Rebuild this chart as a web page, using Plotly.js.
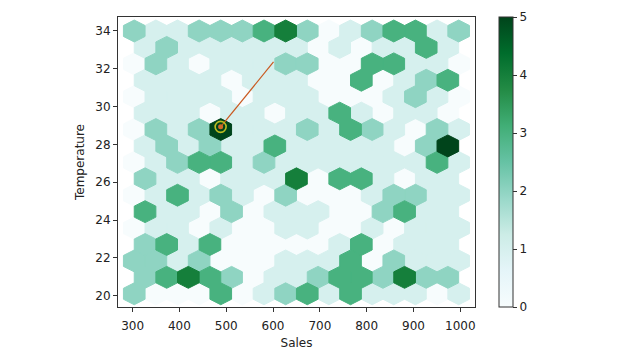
<!DOCTYPE html>
<html><head><meta charset="utf-8">
<script src="https://cdn.plot.ly/plotly-3.0.1.min.js"></script>
<style>html,body{margin:0;padding:0;background:#fff}#chart{width:640px;height:360px}</style>
</head><body><div id="chart"></div>
<script>
// Hexbin counts, lattice 1 (rows from bottom, 16 columns each)
const countsLattice1 = [
  [2,0,0,0,3,0,1,2,3,1,3,1,1,1,0,1],
  [2,2,1,2,0,0,0,1,1,1,3,0,2,1,1,1],
  [0,1,1,0,1,0,0,1,1,0,0,1,0,1,1,1],
  [0,1,3,1,2,1,0,2,0,0,0,1,2,2,1,1],
  [0,1,2,3,3,1,2,1,1,1,1,1,1,1,3,1],
  [0,2,1,2,5,1,1,1,2,1,3,2,1,0,2,1],
  [0,1,1,1,1,0,1,1,1,0,0,0,1,2,1,0],
  [0,2,1,0,1,1,1,2,2,0,0,3,3,1,1,0],
  [2,1,1,2,2,2,3,4,2,0,1,2,3,3,1,2]
];
// Hexbin counts, lattice 2 (offset rows from bottom, 15 columns each)
const countsLattice2 = [
  [2,3,4,3,2,0,1,1,2,3,3,2,4,2,2],
  [2,3,1,3,0,0,0,0,0,1,3,0,1,1,1],
  [3,1,1,0,2,0,1,1,1,0,0,2,3,1,1],
  [2,1,1,0,1,1,1,4,0,3,3,1,0,1,1],
  [1,2,1,2,1,1,3,1,1,1,1,1,0,2,5],
  [1,1,1,0,1,1,0,1,1,3,1,0,1,1,0],
  [1,1,1,1,0,1,1,1,0,0,3,0,1,2,3],
  [1,2,1,1,1,1,1,1,0,1,0,1,1,3,1]
];
// Hexbin data extent (Sales, Temperature) and grid size
const salesExtent = [303.5, 996.5];
const tempExtent = [20.1, 34.0];
const gridsize = 15;
// annotation line: from highlighted point to text position
const annotSales = [488, 601];
const annotTemp = [28.93, 32.36];
const xTicks = [300,400,500,600,700,800,900,1000];
const yTicks = [20,22,24,26,28,30,32,34];
const cbTicks = [0,1,2,3,4,5];

const BUGN = [[0,'#f7fcfd'],[0.125,'#e5f5f9'],[0.25,'#ccece6'],[0.375,'#99d8c9'],[0.5,'#66c2a4'],[0.625,'#41ae76'],[0.75,'#238b45'],[0.875,'#006d2c'],[1,'#00441b']];
function hex2rgb(h){return [parseInt(h.slice(1,3),16),parseInt(h.slice(3,5),16),parseInt(h.slice(5,7),16)];}
function bugn(t){
  for(let i=0;i<BUGN.length-1;i++){
    const [a,ca]=BUGN[i],[b,cb]=BUGN[i+1];
    if(t<=b){const f=(t-a)/(b-a);const A=hex2rgb(ca),B=hex2rgb(cb);
      return 'rgb('+A.map((v,k)=>Math.round(v+(B[k]-v)*f)).join(',')+')';}
  }
  return BUGN[BUGN.length-1][1];
}
const cmax = 5;
const ny = countsLattice2.length;
const sx = (salesExtent[1]-salesExtent[0])/gridsize;
const sy = (tempExtent[1]-tempExtent[0])/ny;

const cells = [];
countsLattice1.forEach((row,j)=>row.forEach((c,i)=>cells.push({x:salesExtent[0]+i*sx,y:tempExtent[0]+j*sy,c})));
countsLattice2.forEach((row,j)=>row.forEach((c,i)=>cells.push({x:salesExtent[0]+(i+0.5)*sx,y:tempExtent[0]+(j+0.5)*sy,c})));

const offs = [[0.5,-1/6],[0.5,1/6],[0,1/3],[-0.5,1/6],[-0.5,-1/6],[0,-1/3]];
const traces = [];
for(let level=0; level<=cmax; level++){
  const xs=[],ys=[];
  cells.filter(d=>d.c===level).forEach(d=>{
    offs.forEach(o=>{xs.push(d.x+o[0]*sx);ys.push(d.y+o[1]*sy);});
    xs.push(d.x+offs[0][0]*sx);ys.push(d.y+offs[0][1]*sy);
    xs.push(null);ys.push(null);
  });
  const col = bugn(level/cmax);
  traces.push({type:'scatter',mode:'lines',x:xs,y:ys,fill:'toself',fillcolor:col,
    line:{color:col,width:1},hoverinfo:'skip',showlegend:false,connectgaps:false});
}
// colorbar carrier
traces.push({type:'scatter',mode:'markers',x:cells.map(d=>d.x),y:cells.map(d=>d.y),
  marker:{color:cells.map(d=>d.c),colorscale:BUGN,cmin:0,cmax:cmax,size:1,opacity:0,showscale:true,
    colorbar:{x:1.067,xanchor:'left',y:0.5,yanchor:'middle',len:1,lenmode:'fraction',thickness:14,
      outlinewidth:1,outlinecolor:'#333',tickvals:cbTicks,ticks:'outside',ticklen:4,tickcolor:'#333',
      tickfont:{family:'DejaVu Sans',size:12,color:'#222'},xpad:0,ypad:0}},
  hoverinfo:'skip',showlegend:false});
// annotation line and marker
traces.push({type:'scatter',mode:'lines',x:annotSales,y:annotTemp,line:{color:'#c9581f',width:1.2},hoverinfo:'skip',showlegend:false});
traces.push({type:'scatter',mode:'markers',x:[annotSales[0]],y:[annotTemp[0]],
  marker:{symbol:'circle-open',size:11,line:{color:'#f2a23a',width:1.6}},hoverinfo:'skip',showlegend:false});
traces.push({type:'scatter',mode:'markers',x:[annotSales[0]],y:[annotTemp[0]],
  marker:{symbol:'circle',size:5,color:'#d06a28'},hoverinfo:'skip',showlegend:false});

const axisCommon = {showline:true,mirror:true,linecolor:'#333',linewidth:1,ticks:'outside',ticklen:4,
  tickcolor:'#333',showgrid:false,zeroline:false,tickfont:{family:'DejaVu Sans',size:12,color:'#222'}};
const layout = {
  width:640,height:360,margin:{l:118,r:165,t:17,b:53},
  paper_bgcolor:'#fff',plot_bgcolor:'#fff',
  xaxis:Object.assign({},axisCommon,{range:[268.8,1031.4],tickvals:xTicks,ticklabelstandoff:4,
    title:{text:'Sales',font:{family:'DejaVu Sans',size:12,color:'#222'},standoff:6}}),
  yaxis:Object.assign({},axisCommon,{range:[19.4,34.74],tickvals:yTicks,
    title:{text:'Temperature',font:{family:'DejaVu Sans',size:12,color:'#222'},standoff:8}}),
  showlegend:false
};
Plotly.newPlot('chart',traces,layout,{displayModeBar:false,staticPlot:true});
</script></body></html>
